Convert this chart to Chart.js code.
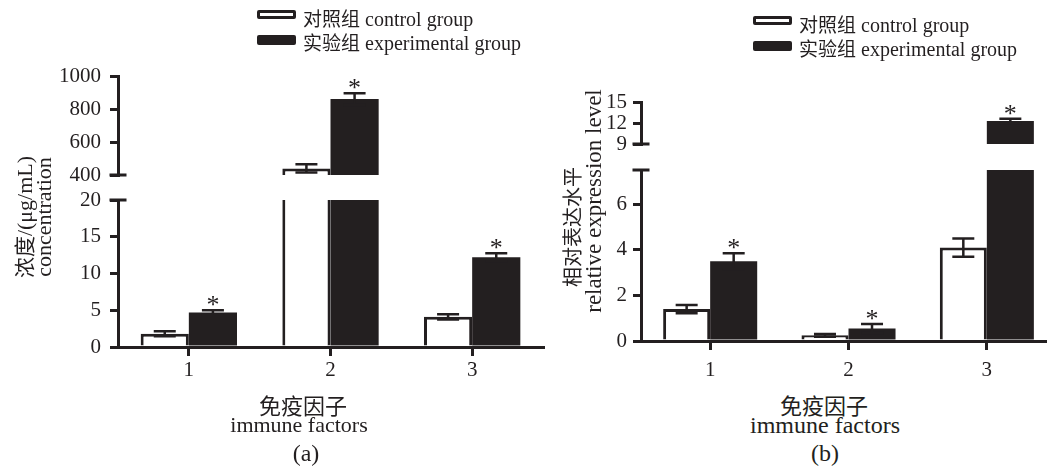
<!DOCTYPE html>
<html lang="en">
<head>
<meta charset="utf-8">
<title>免疫因子 immune factors</title>
<script src="https://cdn.jsdelivr.net/npm/chart.js@4.4.1/dist/chart.umd.min.js"></script>
<style>
  html, body { margin: 0; padding: 0; background: #fff; overflow: hidden; }
  .page {
    position: relative; width: 1047px; height: 469px; overflow: hidden;
    font-family: 'Liberation Serif', 'Noto Sans CJK SC', serif; color: #231f20;
  }
  .cjk { font-family: 'Noto Sans CJK SC', sans-serif; }
  .lat { font-family: 'Liberation Serif', serif; }
  canvas { position: absolute; top: 0; }
  #chart-a { left: 0; }
  #chart-b { left: 523px; }

  .legend { position: absolute; font-size: 20px; }
  .legend-item { position: absolute; left: 0; height: 24px; white-space: nowrap; }
  .legend-box { position: absolute; left: 0; width: 39px; box-sizing: border-box; border-radius: 2px; }
  .legend-box.open  { top: 4px; height: 9px; border: 3px solid #231f20; background: #fff; }
  .legend-box.solid { top: 5px; height: 10px; background: #231f20; }
  .legend-text { position: absolute; left: 46px; top: 0; line-height: 24px; }

  .txt { position: absolute; white-space: nowrap; line-height: 1; transform: translate(-50%, -50%); }
  .rot { transform: translate(-50%, -50%) rotate(-90deg); }
</style>
</head>
<body>
<div class="page">
  <canvas id="chart-a" width="545" height="390"></canvas>
  <canvas id="chart-b" width="533" height="384"></canvas>

  <div class="legend" id="legend-a" style="left:257px; top:6px"></div>
  <div class="legend" id="legend-b" style="left:753px; top:12px"></div>

  <!-- axis titles -->
  <div class="txt rot" style="left:24px; top:217px; font-size:22px"><span class="cjk" style="font-size:21px">浓度</span><span class="lat">/(μg/mL)</span></div>
  <div class="txt rot lat" style="left:44px; top:217px; font-size:22px">concentration</div>
  <div class="txt rot cjk" style="left:572px; top:227px; font-size:20px">相对表达水平</div>
  <div class="txt rot lat" style="left:593px; top:201px; font-size:23px">relative expression level</div>

  <div class="txt cjk" style="left:303px; top:404px; font-size:22px">免疫因子</div>
  <div class="txt lat" style="left:299px; top:425px; font-size:22px">immune factors</div>
  <div class="txt lat" style="left:306px; top:453px; font-size:24px">(a)</div>

  <div class="txt cjk" style="left:824px; top:404px; font-size:22px">免疫因子</div>
  <div class="txt lat" style="left:825px; top:425px; font-size:24px">immune factors</div>
  <div class="txt lat" style="left:825px; top:453px; font-size:24px">(b)</div>
</div>

<script>
// ── Data ─────────────────────────────────────────────────────────────────
const categories  = ['1', '2', '3'];
const seriesNames = ['对照组 control group', '实验组 experimental group'];

// (a) concentration, μg/mL
const controlA       = [1.8, 440, 4.1];
const controlErrA    = [0.35, 25, 0.35];
const experimentA    = [4.7, 860, 12.2];
const experimentErrA = [0.3, 35, 0.55];
const starsA         = [true, true, true];   // on experimental bars

// (b) relative expression level
const controlB       = [1.4, 0.25, 4.1];
const controlErrB    = [0.18, 0.06, 0.4];
const experimentB    = [3.5, 0.55, 12.3];
const experimentErrB = [0.35, 0.2, 0.3];
const starsB         = [true, true, true];

// broken y-axis ranges [min, max, step]
const lowAxisA  = [0, 20, 5];
const highAxisA = [400, 1000, 200];
const lowAxisB  = [0, 7.5, 2];
const highAxisB = [9, 15, 3];

// ── Style ────────────────────────────────────────────────────────────────
const INK  = '#231f20';
const FONT = "'Liberation Serif', 'Noto Sans CJK SC', serif";
const CAP  = 22;

function renderLegend(containerId, labels) {
  const el = document.getElementById(containerId);
  if (!el) return;
  el.innerHTML = labels.map((label, i) => {
    const [zh, ...en] = label.split(' ');
    return `
    <div class="legend-item" style="top:${i * 24}px">
      <span class="legend-box ${i === 0 ? 'open' : 'solid'}"></span>
      <span class="legend-text"><span class="cjk" style="font-size:19px">${zh}</span> <span class="lat">${en.join(' ')}</span></span>
    </div>`;
  }).join('');
}

// error bars, significance stars, axis-break caps
function overlayPlugin(groups, lowMax) {
  return {
    id: 'overlay',
    afterDatasetsDraw(chart) {
      const { ctx } = chart;
      const { yLow, yHigh } = chart.scales;
      ctx.save();
      ctx.strokeStyle = INK;
      ctx.fillStyle = INK;

      // break caps
      const ax = yLow.right;
      ctx.lineWidth = 3;
      ctx.beginPath();
      [yHigh.bottom, yLow.top].forEach(y => {
        ctx.moveTo(ax - 8.5, y);
        ctx.lineTo(ax + 8.5, y);
      });
      ctx.stroke();

      ctx.lineWidth = 2.5;
      ctx.font = `26px ${FONT}`;
      ctx.textAlign = 'center';
      ctx.textBaseline = 'alphabetic';
      groups.forEach(g => {
        const meta = chart.getDatasetMeta(g.datasetIndex);
        g.values.forEach((v, i) => {
          const bar = meta.data[i];
          if (!bar) return;
          const scale = v > lowMax ? yHigh : yLow;
          const yTop = scale.getPixelForValue(v + g.errors[i]);
          const yBot = scale.getPixelForValue(v - g.errors[i]);
          const x = bar.x;
          ctx.beginPath();
          ctx.moveTo(x, yTop);            ctx.lineTo(x, yBot);
          ctx.moveTo(x - CAP / 2, yTop);  ctx.lineTo(x + CAP / 2, yTop);
          ctx.moveTo(x - CAP / 2, yBot);  ctx.lineTo(x + CAP / 2, yBot);
          ctx.stroke();
          if (g.stars && g.stars[i]) ctx.fillText('*', x, yTop + 3);
        });
      });
      ctx.restore();
    },
  };
}

function yScale(range, extra, tickPad) {
  return Object.assign({
    type: 'linear',
    position: 'left',
    stack: 'y',
    stacked: false,
    min: range[0],
    max: range[1],
    grid: { drawOnChartArea: false, color: INK, lineWidth: 3, tickLength: 8 },
    border: { color: INK, width: 3, z: 1 },
    ticks: {
      stepSize: range[2], includeBounds: false, autoSkip: false,
      padding: tickPad, color: INK, font: { family: FONT, size: 21 },
      callback: v => String(v),
    },
    afterFit: s => { s.width = 118; },
  }, extra);
}

function buildBrokenBarChart(canvasId, d) {
  const lowMax  = d.low[1];
  const highMin = d.high[0];
  const lowPart  = vals => vals.map(v => Math.min(v, lowMax));
  const highPart = vals => vals.map(v => (v > highMin ? [highMin, v] : null));
  const cutTop   = vals => ctx => (vals[ctx.dataIndex] > lowMax ? { top: 0, left: 3, right: 3, bottom: 0 } : 3);

  const common = { borderColor: INK, categoryPercentage: 0.68, barPercentage: 1.0 };

  new Chart(document.getElementById(canvasId), {
    type: 'bar',
    data: {
      labels: categories,
      datasets: [
        { ...common, label: seriesNames[0], data: lowPart(d.control),     yAxisID: 'yLow',  stack: 'control',    backgroundColor: '#fff', borderWidth: cutTop(d.control) },
        { ...common, label: seriesNames[1], data: lowPart(d.experiment),  yAxisID: 'yLow',  stack: 'experiment', backgroundColor: INK,    borderWidth: 0 },
        { ...common, label: seriesNames[0], data: highPart(d.control),    yAxisID: 'yHigh', stack: 'control',    backgroundColor: '#fff', borderWidth: 3 },
        { ...common, label: seriesNames[1], data: highPart(d.experiment), yAxisID: 'yHigh', stack: 'experiment', backgroundColor: INK,    borderWidth: 0 },
      ],
    },
    options: {
      responsive: false,
      animation: false,
      layout: { padding: { top: d.padTop, bottom: 3, left: 0, right: d.padRight } },
      plugins: { legend: { display: false }, tooltip: { enabled: false } },
      scales: {
        x: {
          type: 'category',
          offset: true,
          grid: { offset: false, drawOnChartArea: false, color: INK, lineWidth: 3, tickLength: 9 },
          border: { color: INK, width: 3, z: 1 },
          ticks: { color: INK, padding: d.xTickPad, font: { family: FONT, size: 21 } },
          afterFit: s => { s.height = 40; },
        },
        yHigh: yScale(d.high, { stackWeight: d.weights[0], weight: 3 }, d.tickPad),
        yGap:  { type: 'linear', position: 'left', stack: 'y', stackWeight: d.weights[1], weight: 2, display: false, afterFit: s => { s.width = 118; } },
        yLow:  yScale(d.low,  { stackWeight: d.weights[2], weight: 1 }, d.tickPad),
      },
    },
    plugins: [overlayPlugin([
      { datasetIndex: 0, values: d.control,    errors: d.controlErr },
      { datasetIndex: 1, values: d.experiment, errors: d.experimentErr, stars: d.stars },
    ], lowMax)],
  });
}

document.addEventListener('DOMContentLoaded', () => {
  renderLegend('legend-a', seriesNames);
  renderLegend('legend-b', seriesNames);

  buildBrokenBarChart('chart-a', {
    control: controlA, controlErr: controlErrA,
    experiment: experimentA, experimentErr: experimentErrA, stars: starsA,
    low: lowAxisA, high: highAxisA,
    weights: [99, 25, 147], padTop: 76, padRight: 2, tickPad: 9, xTickPad: 2,
  });

  buildBrokenBarChart('chart-b', {
    control: controlB, controlErr: controlErrB,
    experiment: experimentB, experimentErr: experimentErrB, stars: starsB,
    low: lowAxisB, high: highAxisB,
    weights: [42, 26, 171], padTop: 102, padRight: 0, tickPad: 6, xTickPad: 8,
  });
});
</script>
</body>
</html>
